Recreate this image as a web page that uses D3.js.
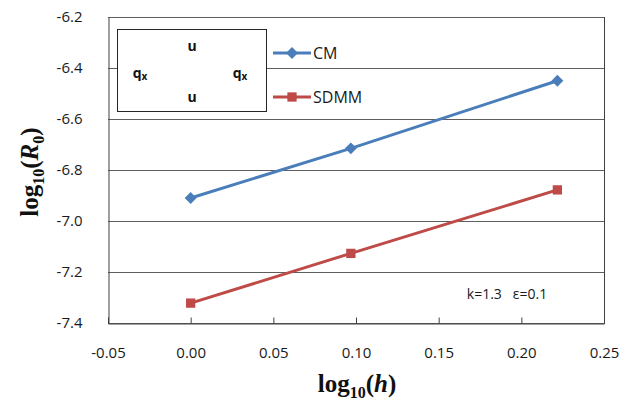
<!DOCTYPE html>
<html>
<head>
<meta charset="utf-8">
<script src="https://cdn.jsdelivr.net/npm/d3@7"></script>
<style>
    body { margin: 0; background: #fff; }
    #chart text { font-family: "Open Sans", "Liberation Sans", sans-serif; }
    #chart .serif { font-family: "Liberation Serif", "Times New Roman", serif; font-weight: bold; }
</style>
</head>
<body>
<div id="chart"></div>
<script>
// chart data
const xValues = [0.0, 0.0969, 0.2218];
const cmValues = [-6.91, -6.715, -6.45];
const sdmmValues = [-7.322, -7.127, -6.878];
const seriesNames = ['CM', 'SDMM'];
const xTicks = [-0.05, 0, 0.05, 0.1, 0.15, 0.2, 0.25];
const yTicks = [-6.2, -6.4, -6.6, -6.8, -7.0, -7.2, -7.4];

const colors = ['#4a7ebb', '#be4b48'];

let width = 631, height = 405;
let margin = {top: 17, right: 27, bottom: 82, left: 108};

let svg = d3.select('#chart').append('svg')
    .attr('width', width)
    .attr('height', height);

let x = d3.scaleLinear()
    .domain([-0.05, 0.25])
    .range([margin.left, width - margin.right]);

let y = d3.scaleLinear()
    .domain([-7.4, -6.2])
    .range([height - margin.bottom, margin.top]);

// plain hyphen for negatives, like the original
let fmt = p => d => d3.format('.' + p + 'f')(d).replace('−', '-');

// gridlines
svg.append('g')
    .selectAll('line')
    .data(yTicks)
    .enter().append('line')
    .attr('x1', x(-0.05))
    .attr('x2', x(0.25))
    .attr('y1', d => Math.round(y(d)) + 0.5)
    .attr('y2', d => Math.round(y(d)) + 0.5)
    .attr('stroke', '#5e5e5e')
    .attr('stroke-width', 1);

let xAxis = d3.axisBottom(x)
    .tickValues(xTicks)
    .tickSize(-6)
    .tickPadding(24)
    .tickFormat(fmt(2));

let gx = svg.append('g')
    .attr('transform', `translate(0, ${Math.round(y(-7.4)) + 0.5})`)
    .call(xAxis);
gx.select('.domain').attr('stroke', '#404040');
gx.selectAll('.tick line').attr('stroke', '#404040');
gx.selectAll('text')
    .attr('font-size', 15)
    .attr('fill', '#1a1a1a')
    .attr('font-family', '"Open Sans", sans-serif');

let yAxis = d3.axisLeft(y)
    .tickValues(yTicks)
    .tickSize(0)
    .tickPadding(26)
    .tickFormat(fmt(1));

let gy = svg.append('g')
    .attr('transform', `translate(${Math.round(x(-0.05)) + 0.5}, 0)`)
    .call(yAxis);
gy.select('.domain').attr('stroke', '#404040');
gy.selectAll('text')
    .attr('font-size', 15)
    .attr('fill', '#1a1a1a')
    .attr('font-family', '"Open Sans", sans-serif');

// right border
svg.append('line')
    .attr('x1', Math.round(x(0.25)) + 0.5)
    .attr('x2', Math.round(x(0.25)) + 0.5)
    .attr('y1', y(-6.2))
    .attr('y2', y(-7.4))
    .attr('stroke', '#404040');

// inset box with boundary labels
let box = svg.append('g');
box.append('rect')
    .attr('x', 117.5).attr('y', 29.5)
    .attr('width', 149).attr('height', 82)
    .attr('fill', '#fff')
    .attr('stroke', '#262626');

let boxLabels = [
    {t: 'u', sub: '', x: 192, y: 51},
    {t: 'q', sub: 'x', x: 140, y: 78},
    {t: 'q', sub: 'x', x: 240, y: 78},
    {t: 'u', sub: '', x: 192, y: 102}
];
boxLabels.forEach(d => {
    let t = box.append('text')
        .attr('x', d.x).attr('y', d.y)
        .attr('text-anchor', 'middle')
        .attr('font-size', 14)
        .attr('font-weight', 'bold')
        .attr('fill', '#111');
    t.append('tspan').text(d.t);
    if (d.sub) {
        t.append('tspan').text(d.sub)
            .attr('font-size', 10)
            .attr('dy', 2);
    }
});

// series
let series = [cmValues, sdmmValues];
let line = d3.line()
    .x((d, i) => x(xValues[i]))
    .y(d => y(d));

let markerFor = k => d3.symbol()
    .type(k === 0 ? d3.symbolDiamond2 : d3.symbolSquare2)
    .size(k === 0 ? 90 : 110);

series.forEach((vals, k) => {
    svg.append('path')
        .datum(vals)
        .attr('fill', 'none')
        .attr('stroke', colors[k])
        .attr('stroke-width', 3)
        .attr('d', line);

    svg.selectAll('.m' + k)
        .data(vals)
        .enter().append('path')
        .attr('class', 'm' + k)
        .attr('transform', (d, i) => `translate(${x(xValues[i])}, ${y(d)})`)
        .attr('d', markerFor(k))
        .attr('fill', colors[k]);
});

// legend
let legend = svg.append('g');
seriesNames.forEach((name, k) => {
    let ly = 53 + k * 44;
    legend.append('line')
        .attr('x1', 273).attr('x2', 311)
        .attr('y1', ly).attr('y2', ly)
        .attr('stroke', colors[k])
        .attr('stroke-width', 3);
    legend.append('path')
        .attr('transform', `translate(292, ${ly})`)
        .attr('d', markerFor(k))
        .attr('fill', colors[k]);
    legend.append('text')
        .attr('x', 313).attr('y', ly + 6)
        .attr('font-size', 16)
        .attr('fill', '#1a1a1a')
        .text(name);
});

// annotation
svg.append('text')
    .attr('x', 507).attr('y', 299)
    .attr('text-anchor', 'middle')
    .attr('font-size', 14)
    .attr('fill', '#1a1a1a')
    .attr('xml:space', 'preserve')
    .text('k=1.3   ε=0.1');

// axis titles
let xt = svg.append('text')
    .attr('class', 'serif')
    .attr('x', 357).attr('y', 392)
    .attr('text-anchor', 'middle')
    .attr('font-size', 25)
    .attr('fill', '#111');
xt.append('tspan').text('log');
xt.append('tspan').text('10').attr('font-size', 16).attr('dy', 6);
xt.append('tspan').text('(').attr('dy', -6);
xt.append('tspan').text('h').attr('font-style', 'italic');
xt.append('tspan').text(')');

let yt = svg.append('text')
    .attr('class', 'serif')
    .attr('transform', 'translate(38, 172) rotate(-90)')
    .attr('text-anchor', 'middle')
    .attr('font-size', 25)
    .attr('fill', '#111');
yt.append('tspan').text('log');
yt.append('tspan').text('10').attr('font-size', 16).attr('dy', 6);
yt.append('tspan').text('(').attr('dy', -6);
yt.append('tspan').text('R').attr('font-style', 'italic');
yt.append('tspan').text('0').attr('font-size', 16).attr('dy', 6);
yt.append('tspan').text(')').attr('dy', -6);
</script>
</body>
</html>
